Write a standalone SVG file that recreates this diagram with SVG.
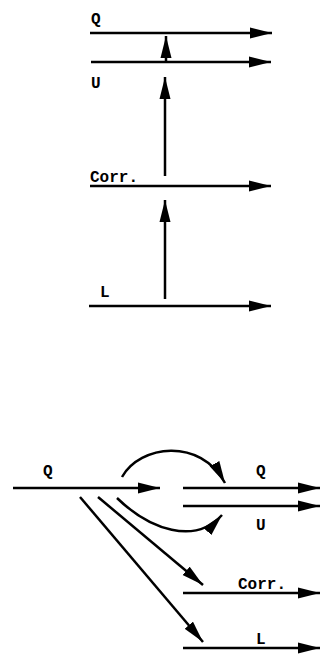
<svg xmlns="http://www.w3.org/2000/svg" width="320" height="654" viewBox="0 0 320 654">
<defs>
<marker id="ah" markerUnits="userSpaceOnUse" markerWidth="22" markerHeight="12" refX="22" refY="6" orient="auto">
<path d="M0,0.5 L22,6 L0,11.5 z" fill="#000"/>
</marker>
</defs>
<style>
.ln{stroke:#000;stroke-width:2.5;fill:none;marker-end:url(#ah)}
.t{font-family:"Liberation Mono","Courier New",monospace;font-size:16px;font-weight:bold;fill:#000}
</style>
<rect width="320" height="654" fill="#fff"/>
<g id="connectors">
<line class="ln" x1="90" y1="33" x2="272" y2="33"/>
<line class="ln" x1="91" y1="62" x2="271" y2="62"/>
<line class="ln" x1="90" y1="186" x2="271" y2="186"/>
<line class="ln" x1="89" y1="306" x2="271" y2="306"/>
<line class="ln" x1="166" y1="62" x2="166" y2="36"/>
<line class="ln" x1="165" y1="176" x2="165" y2="77"/>
<line class="ln" x1="165" y1="299" x2="165" y2="200"/>
<line class="ln" x1="13" y1="488" x2="160" y2="488"/>
<line class="ln" x1="183" y1="488" x2="320" y2="488"/>
<line class="ln" x1="183" y1="506" x2="320" y2="506"/>
<line class="ln" x1="183" y1="593" x2="320" y2="593"/>
<line class="ln" x1="183" y1="648" x2="320" y2="648"/>
<path class="ln" d="M122,477 C140,445 200,437 225,483"/>
<path class="ln" d="M117,498 C150,530 195,545 222,515"/>
<line class="ln" x1="80" y1="497" x2="203" y2="642"/>
<line class="ln" x1="98" y1="497" x2="203" y2="585"/>
</g>
<g id="top-Q"><text class="t" x="91" y="24">Q</text></g>
<g id="top-U"><text class="t" x="91" y="88">U</text></g>
<g id="top-Corr"><text class="t" x="90" y="182">Corr.</text></g>
<g id="top-L"><text class="t" x="100" y="297">L</text></g>
<g id="bot-Q-in"><text class="t" x="43" y="476">Q</text></g>
<g id="bot-Q"><text class="t" x="256" y="476">Q</text></g>
<g id="bot-U"><text class="t" x="256" y="530">U</text></g>
<g id="bot-Corr"><text class="t" x="238" y="589">Corr.</text></g>
<g id="bot-L"><text class="t" x="256" y="644">L</text></g>
</svg>
